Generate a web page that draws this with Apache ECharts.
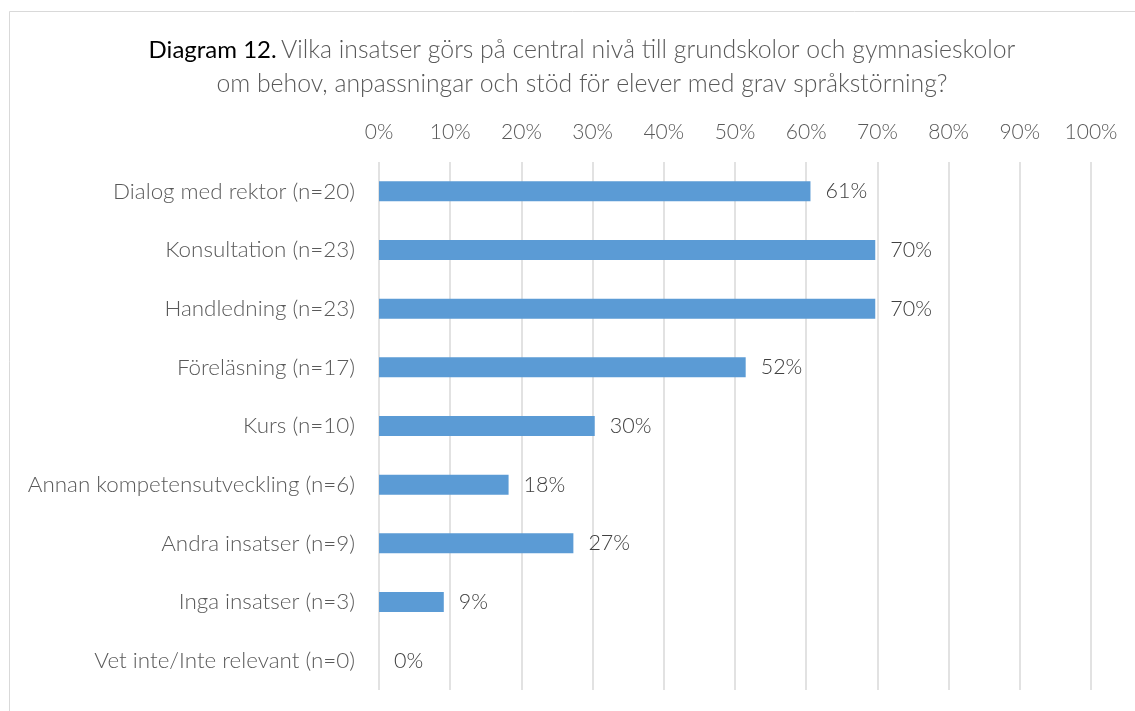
<!DOCTYPE html>
<html>
<head>
<meta charset="utf-8">
<script src="https://cdn.jsdelivr.net/npm/echarts@6/dist/echarts.min.js"></script>
<style>html,body{margin:0;padding:0;background:#fff}#c{width:1135px;height:711px}</style>
</head>
<body>
<div id="c"></div>
<script>
const categories = [
  'Dialog med rektor (n=20)',
  'Konsultation (n=23)',
  'Handledning (n=23)',
  'Föreläsning (n=17)',
  'Kurs (n=10)',
  'Annan kompetensutveckling (n=6)',
  'Andra insatser (n=9)',
  'Inga insatser (n=3)',
  'Vet inte/Inte relevant (n=0)'
];
const values = [60.6, 69.7, 69.7, 51.5, 30.3, 18.2, 27.3, 9.1, 0];
const tickValues = [0, 10, 20, 30, 40, 50, 60, 70, 80, 90, 100];

const FONT = 'Lato';
const chart = echarts.init(document.getElementById('c'));
chart.setOption({
  backgroundColor: '#fff',
  animation: false,
  graphic: [{
    type: 'rect', silent: true,
    shape: { x: 9.5, y: 11.5, width: 1300, height: 900 },
    style: { fill: 'none', stroke: '#d9d9d9', lineWidth: 1 }
  }],
  title: {
    text: '{b|Diagram 12.} {n|Vilka insatser görs på central nivå till grundskolor och gymnasieskolor}\n{n|om behov, anpassningar och stöd för elever med grav språkstörning?}',
    left: 577,
    textAlign: 'center',
    top: 28,
    textStyle: {
      fontFamily: FONT,
      rich: {
        b: { fontFamily: FONT, fontSize: 24, fontWeight: 'normal', color: '#000', lineHeight: 34 },
        n: { fontFamily: FONT, fontSize: 24.8, fontWeight: 300, color: '#595959', lineHeight: 34 }
      }
    }
  },
  grid: { left: 379, right: 44, top: 162, bottom: 21, containLabel: false },
  xAxis: {
    type: 'value',
    position: 'top',
    min: 0, max: 100, interval: 10,
    axisLine: { show: false },
    axisTick: { show: false },
    axisLabel: {
      formatter: v => tickValues.includes(v) ? v + '%' : '',
      color: '#595959', fontSize: 21, fontWeight: 300, fontFamily: FONT, margin: 19
    },
    splitLine: { lineStyle: { color: '#d9d9d9', width: 1.5 } }
  },
  yAxis: {
    type: 'category',
    data: categories,
    inverse: true,
    axisLine: { show: false },
    axisTick: { show: false },
    axisLabel: { color: '#595959', fontSize: 22.4, fontWeight: 300, fontFamily: FONT, margin: 24 }
  },
  series: [{
    type: 'bar',
    data: values,
    barWidth: '34%',
    itemStyle: { color: '#5b9bd5' },
    label: {
      show: true, position: 'right', distance: 15,
      formatter: p => Math.round(p.value) + '%',
      color: '#404040', fontSize: 21.5, fontWeight: 300, fontFamily: FONT
    }
  }]
});
</script>
</body>
</html>
